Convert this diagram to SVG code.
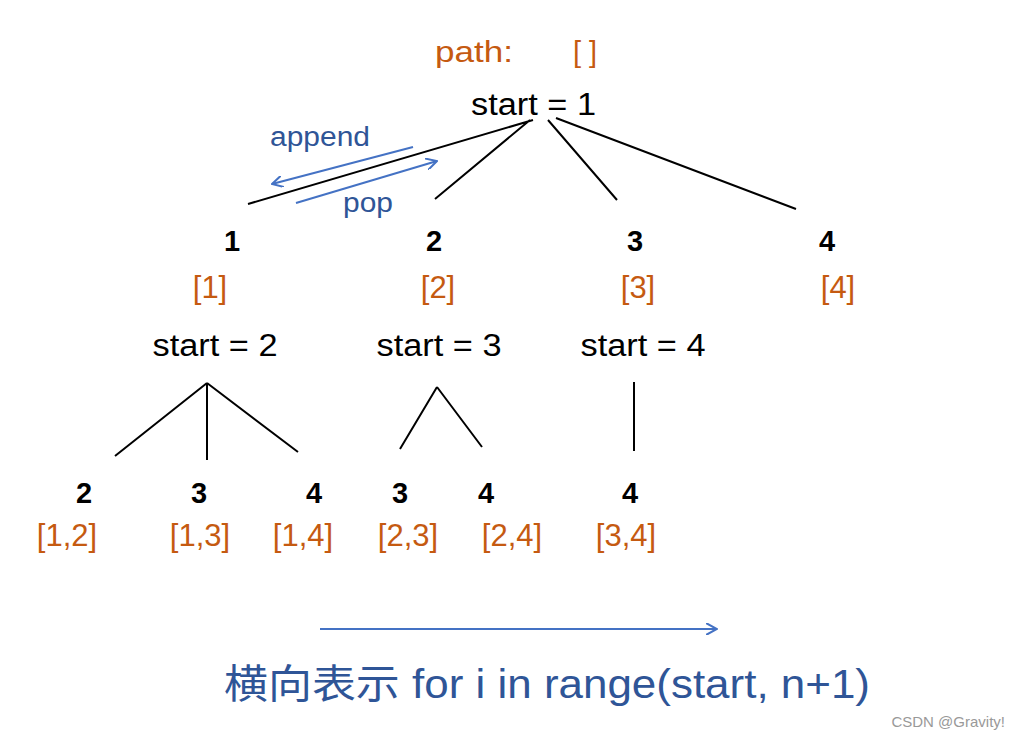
<svg xmlns="http://www.w3.org/2000/svg" width="1010" height="740" viewBox="0 0 1010 740">
<style>
text{font-family:"Liberation Sans",Arial,"Noto Sans CJK SC",sans-serif}
.o{fill:#c55a11;font-size:31px;text-anchor:middle}
.k{fill:#000;font-size:31px;text-anchor:middle}
.b{fill:#000;font-size:29px;font-weight:bold;text-anchor:middle}
.bl{fill:#2f5597;font-size:27px}
.e{stroke:#000;stroke-width:2;fill:none}
.a{stroke:#4472c4;stroke-width:2;fill:none;marker-end:url(#ar)}
</style>
<defs><marker id="ar" viewBox="0 0 12 12" refX="11" refY="6" markerWidth="12" markerHeight="12" markerUnits="userSpaceOnUse" orient="auto"><path d="M0,0 L11,6 L0,12" fill="none" stroke="#4472c4" stroke-width="2"/></marker></defs>
<rect width="1010" height="740" fill="#fff"/>
<g id="connectors">
<path class="e" d="M533,120 L248,204 M530,120 L435,199 M548,120 L617,200 M556,118 L796,209"/>
<path class="e" d="M207,383 L115,456 M207,383 L207,460 M207,383 L298,452"/>
<path class="e" d="M437,387 L400,449 M437,387 L482,447 M634,382 L634,451"/>
<path class="a" d="M413,147 L272,184"/>
<path class="a" d="M296,203 L437,161"/>
<path class="a" d="M320,629 L717,629"/>
</g>
<g id="root"><text x="435" y="62" fill="#c55a11" font-size="29" textLength="78" lengthAdjust="spacingAndGlyphs">path:</text><text x="585" y="62" class="o" style="font-size:29px">[ ]</text><text x="471" y="115" class="k" style="text-anchor:start" textLength="125" lengthAdjust="spacingAndGlyphs">start = 1</text></g>
<g id="labels"><text x="270" y="146" class="bl" textLength="100" lengthAdjust="spacingAndGlyphs">append</text><text x="343" y="212" class="bl" textLength="50" lengthAdjust="spacingAndGlyphs">pop</text></g>
<g id="n1"><text x="232" y="251" class="b">1</text><text x="210" y="298" class="o">[1]</text><text x="215" y="356" class="k" textLength="125" lengthAdjust="spacingAndGlyphs">start = 2</text></g>
<g id="n2"><text x="434" y="251" class="b">2</text><text x="438" y="298" class="o">[2]</text><text x="439" y="356" class="k" textLength="125" lengthAdjust="spacingAndGlyphs">start = 3</text></g>
<g id="n3"><text x="635" y="251" class="b">3</text><text x="638" y="298" class="o">[3]</text><text x="643" y="356" class="k" textLength="125" lengthAdjust="spacingAndGlyphs">start = 4</text></g>
<g id="n4"><text x="827" y="251" class="b">4</text><text x="838" y="298" class="o">[4]</text></g>
<g id="n12"><text x="84" y="503" class="b">2</text><text x="67" y="546" class="o">[1,2]</text></g>
<g id="n13"><text x="199" y="503" class="b">3</text><text x="200" y="546" class="o">[1,3]</text></g>
<g id="n14"><text x="314" y="503" class="b">4</text><text x="303" y="546" class="o">[1,4]</text></g>
<g id="n23"><text x="400" y="503" class="b">3</text><text x="408" y="546" class="o">[2,3]</text></g>
<g id="n24"><text x="486" y="503" class="b">4</text><text x="512" y="546" class="o">[2,4]</text></g>
<g id="n34"><text x="630" y="503" class="b">4</text><text x="626" y="546" class="o">[3,4]</text></g>
<text x="224" y="698" fill="#2f5597" font-size="40" textLength="646" lengthAdjust="spacingAndGlyphs">横向表示 for i in range(start, n+1)</text>
<text x="1005" y="727" fill="#999" font-size="15" text-anchor="end">CSDN @Gravity!</text>
</svg>
